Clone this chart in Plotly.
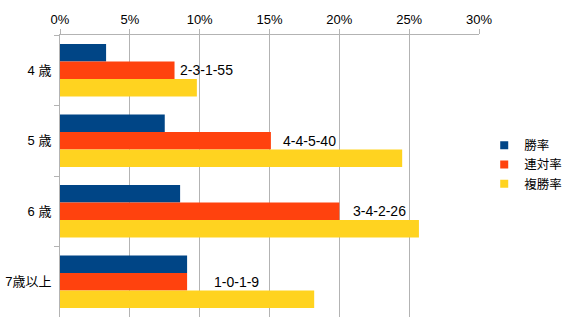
import plotly.graph_objects as go

categories = ["4 歳", "5 歳", "6 歳", "7歳以上"]
series_names = ["勝率", "連対率", "複勝率"]
win_rate = [3.3, 7.5, 8.6, 9.1]
rentai_rate = [8.2, 15.1, 20.0, 9.1]
fukusho_rate = [9.8, 24.5, 25.7, 18.2]
records = ["2-3-1-55", "4-4-5-40", "3-4-2-26", "1-0-1-9"]
record_label_x = [8.45, 15.8, 20.8, 10.9]
tick_vals = [0, 5, 10, 15, 20, 25, 30]
tick_text = ["0%", "5%", "10%", "15%", "20%", "25%", "30%"]

colors = ["#004586", "#ff420e", "#ffd320"]
font_family = "Liberation Sans, Arial, Noto Sans CJK JP, sans-serif"

fig = go.Figure()
for name, vals, c in zip(series_names, [win_rate, rentai_rate, fukusho_rate], colors):
    fig.add_trace(go.Bar(y=categories, x=vals, orientation="h", name=name,
                         marker=dict(color=c, line=dict(width=0)), showlegend=False))
for name, c in zip(series_names, colors):
    fig.add_trace(go.Scatter(x=[None], y=[None], mode="markers", name=name,
                             marker=dict(symbol="square", size=8, color=c)))

for cat, rec, lx in zip(categories, records, record_label_x):
    fig.add_annotation(x=lx, y=cat, text=rec, showarrow=False, xanchor="left",
                       yanchor="middle", font=dict(size=14, color="#000000", family=font_family))

fig.update_layout(
    width=569, height=332,
    margin=dict(l=60, r=90, t=35, b=15, autoexpand=False),
    paper_bgcolor="white", plot_bgcolor="white",
    barmode="group", bargap=0.255, bargroupgap=0,
    font=dict(family=font_family, size=13, color="#000000"),
    legend=dict(xref="container", x=0.851, y=0.54, xanchor="left", yanchor="middle",
                font=dict(size=12.5), tracegroupgap=0, itemwidth=30, bgcolor="rgba(0,0,0,0)"),
)
fig.update_xaxes(side="top", range=[0, 30], tickvals=tick_vals, ticktext=tick_text,
                 showgrid=True, gridcolor="#b3b3b3", gridwidth=1,
                 showline=True, linecolor="#b3b3b3", ticks="outside", ticklen=5,
                 tickcolor="#b3b3b3", zeroline=False, tickfont=dict(size=13), fixedrange=True)
fig.update_yaxes(autorange="reversed", showline=True, linecolor="#b3b3b3",
                 ticks="outside", ticklen=5, tickcolor="#b3b3b3", tickson="boundaries",
                 ticklabelstandoff=5, showgrid=False, tickfont=dict(size=13))

fig.write_html("out.html")
